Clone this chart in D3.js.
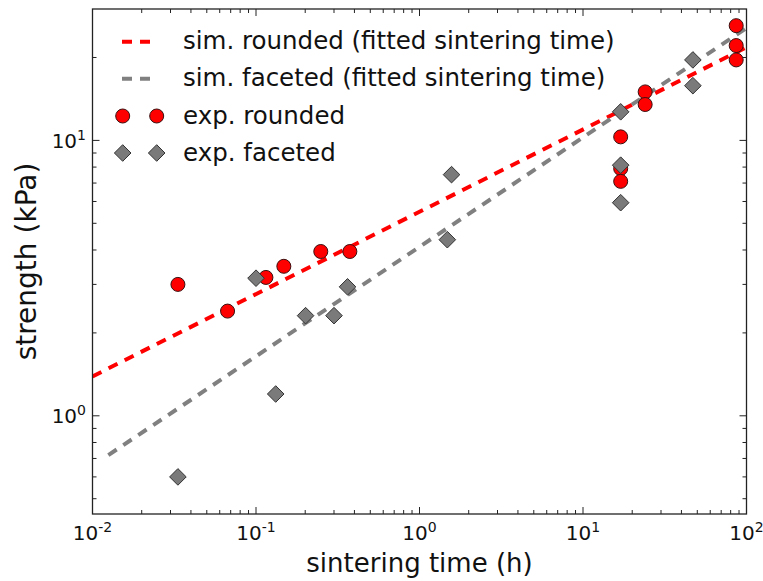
<!DOCTYPE html>
<html lang="en">
<head>
<meta charset="UTF-8">
<title>Sintering strength</title>
<style>
  body { margin: 0; background: #fff; }
  svg { display: block; font-family: 'DejaVu Sans', sans-serif; }
</style>
</head>
<body>
<div id="chart"></div>
<script src="https://cdn.jsdelivr.net/npm/d3@7/dist/d3.min.js"></script>
<script>
var roundedTime     = [0.0333, 0.067, 0.115, 0.148, 0.249, 0.375, 17, 17, 17, 24, 24, 86.5, 86.5, 86.5];
var roundedStrength = [3.0, 2.40, 3.18, 3.49, 3.95, 3.95, 10.3, 7.9, 7.1, 15.0, 13.5, 26.1, 22.1, 19.6];
var facetedTime     = [0.0333, 0.1, 0.132, 0.201, 0.30, 0.363, 1.57, 1.48, 17, 17, 17, 47, 47];
var facetedStrength = [0.60, 3.16, 1.20, 2.31, 2.31, 2.94, 7.51, 4.36, 12.7, 8.13, 5.94, 19.6, 15.8];

// fitted model lines (straight in log-log, end points)
var simRoundedTime     = [0.01, 100];
var simRoundedStrength = [1.39, 21.8];
var simFacetedTime     = [0.0125, 100];
var simFacetedStrength = [0.72, 25.6];

var xDecades = [-2, -1, 0, 1, 2];
var yDecades = [0, 1];

var legendLabels = ['sim. rounded (fitted sintering time)', 'sim. faceted (fitted sintering time)',
                    'exp. rounded', 'exp. faceted'];

var W = 763, H = 581;
var pL = 92.5, pR = 746.5, pT = 9, pB = 514;

var svg = d3.select('#chart').append('svg').attr('width', W).attr('height', H);

var x = d3.scaleLog().domain([0.01, 100]).range([pL, pR]);
var y = d3.scaleLog().domain([0.44, 30]).range([pB, pT]);

svg.append('clipPath').attr('id', 'clip')
  .append('rect').attr('x', pL).attr('y', pT).attr('width', pR - pL).attr('height', pB - pT);

var plot = svg.append('g').attr('clip-path', 'url(#clip)');

var line = d3.line().x(function (d) { return x(d[0]); }).y(function (d) { return y(d[1]); });

plot.append('path')
  .attr('d', line(d3.zip(simRoundedTime, simRoundedStrength)))
  .attr('fill', 'none').attr('stroke', '#ff0000').attr('stroke-width', 4).attr('stroke-dasharray', '10,8');
plot.append('path')
  .attr('d', line(d3.zip(simFacetedTime, simFacetedStrength)))
  .attr('fill', 'none').attr('stroke', '#808080').attr('stroke-width', 4).attr('stroke-dasharray', '10,8');

var diamond = function (cx, cy) {
  var r = 8.3;
  return 'M' + cx + ',' + (cy - r) + 'L' + (cx + r) + ',' + cy + 'L' + cx + ',' + (cy + r) + 'L' + (cx - r) + ',' + cy + 'Z';
};

plot.selectAll('.rnd').data(d3.zip(roundedTime, roundedStrength)).enter().append('circle')
  .attr('cx', function (d) { return x(d[0]); })
  .attr('cy', function (d) { return y(d[1]); })
  .attr('r', 7)
  .attr('fill', '#ff0000').attr('stroke', '#3a1010').attr('stroke-width', 1);

plot.selectAll('.fac').data(d3.zip(facetedTime, facetedStrength)).enter().append('path')
  .attr('d', function (d) { return diamond(x(d[0]), y(d[1])); })
  .attr('fill', '#7a7a7a').attr('stroke', '#333').attr('stroke-width', 1);

// frame
svg.append('rect').attr('x', pL).attr('y', pT).attr('width', pR - pL).attr('height', pB - pT)
  .attr('fill', 'none').attr('stroke', '#222').attr('stroke-width', 1.3);

// ticks (inside, mirrored on all sides)
var xMajor = xDecades.map(function (e) { return Math.pow(10, e); });
var xMinor = [];
xDecades.slice(0, -1).forEach(function (e) {
  for (var k = 2; k <= 9; k++) xMinor.push(k * Math.pow(10, e));
});
var yMajor = yDecades.map(function (e) { return Math.pow(10, e); });
var yMinor = [];
[-1, 0, 1].forEach(function (e) {
  for (var k = 2; k <= 9; k++) {
    var v = k * Math.pow(10, e);
    if (v > 0.44 && v < 30) yMinor.push(v);
  }
});

var ticks = svg.append('g').attr('stroke', '#222').attr('stroke-width', 1);
function xTick(v, len) {
  ticks.append('line').attr('x1', x(v)).attr('x2', x(v)).attr('y1', pB).attr('y2', pB - len);
  ticks.append('line').attr('x1', x(v)).attr('x2', x(v)).attr('y1', pT).attr('y2', pT + len);
}
function yTick(v, len) {
  ticks.append('line').attr('y1', y(v)).attr('y2', y(v)).attr('x1', pL).attr('x2', pL + len);
  ticks.append('line').attr('y1', y(v)).attr('y2', y(v)).attr('x1', pR).attr('x2', pR - len);
}
xMajor.forEach(function (v) { xTick(v, 7); });
xMinor.forEach(function (v) { xTick(v, 4); });
yMajor.forEach(function (v) { yTick(v, 7); });
yMinor.forEach(function (v) { yTick(v, 4); });

// tick labels
xDecades.forEach(function (e) {
  var t = svg.append('text').attr('x', x(Math.pow(10, e))).attr('y', 540)
    .attr('text-anchor', 'middle').attr('font-size', 20).attr('fill', '#111');
  t.append('tspan').text('10');
  t.append('tspan').attr('dy', -8).attr('font-size', 14).text(e < 0 ? '-' + (-e) : e);
});
yDecades.forEach(function (e) {
  var t = svg.append('text').attr('x', 86).attr('y', y(Math.pow(10, e)) + 7.5)
    .attr('text-anchor', 'end').attr('font-size', 20).attr('fill', '#111');
  t.append('tspan').text('10');
  t.append('tspan').attr('dy', -8).attr('font-size', 14).text(e);
});

// axis labels
svg.append('text').attr('x', (pL + pR) / 2).attr('y', 572)
  .attr('text-anchor', 'middle').attr('font-size', 26).attr('fill', '#111').text('sintering time (h)');
svg.append('text').attr('transform', 'translate(36,' + ((pT + pB) / 2) + ') rotate(-90)')
  .attr('text-anchor', 'middle').attr('font-size', 28).attr('fill', '#111').text('strength (kPa)');

// legend
var legendY = [41.7, 78.7, 116, 153];
var lg = svg.append('g');
lg.append('line').attr('x1', 122).attr('x2', 157).attr('y1', legendY[0]).attr('y2', legendY[0])
  .attr('stroke', '#ff0000').attr('stroke-width', 4).attr('stroke-dasharray', '10,8');
lg.append('line').attr('x1', 122).attr('x2', 157).attr('y1', legendY[1]).attr('y2', legendY[1])
  .attr('stroke', '#808080').attr('stroke-width', 4).attr('stroke-dasharray', '10,8');
[122.7, 156.7].forEach(function (cx) {
  lg.append('circle').attr('cx', cx).attr('cy', legendY[2]).attr('r', 7)
    .attr('fill', '#ff0000').attr('stroke', '#3a1010').attr('stroke-width', 1);
  lg.append('path').attr('d', diamond(cx, legendY[3]))
    .attr('fill', '#7a7a7a').attr('stroke', '#333').attr('stroke-width', 1);
});
legendLabels.forEach(function (s, i) {
  lg.append('text').attr('x', 183).attr('y', legendY[i] + 7.5)
    .attr('font-size', 24.5).attr('fill', '#111').text(s);
});
</script>
</body>
</html>
